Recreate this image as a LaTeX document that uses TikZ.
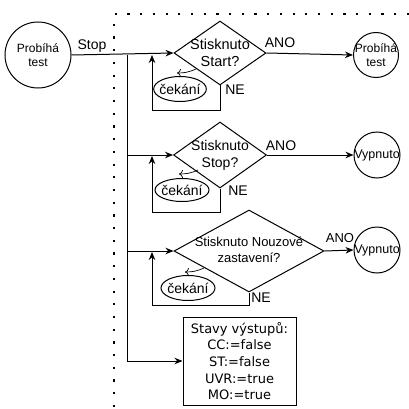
\documentclass[tikz,border=0pt]{standalone}
\usepackage{fontspec}
\setmainfont{Liberation Sans}
\newfontfamily\boxfont{DejaVu Sans}
\usetikzlibrary{shapes.geometric,arrows.meta}
\tikzset{
  arr/.style={draw, line width=1pt, -{Stealth[length=8pt,width=6.5pt]}},
  dia/.style={diamond, draw, line width=1pt, inner sep=0pt},
  dtext/.style={align=center, font=\fontsize{14.5}{17}\selectfont, inner sep=0pt},
  circ/.style={circle, draw, line width=1pt, align=center, inner sep=-4pt, font=\fontsize{12}{13.5}\selectfont},
  wait/.style={ellipse, draw, line width=1pt, inner sep=-2pt, font=\fontsize{14}{16}\selectfont},
  lab/.style={font=\fontsize{14}{16}\selectfont, inner sep=0pt},
  loopmark/.style={draw, line width=0.7pt, -{To[length=4pt,width=8pt]}},
  dots/.style={draw, line width=2.2pt, dash pattern=on 2.2pt off 10.5pt}
}
\begin{document}
\begin{tikzpicture}[x=1pt,y=-1pt]
\useasboundingbox (0,0) rectangle (409,409);
% dotted frame
\draw[dots] (409,14) -- (114,14) -- (114,409);

% start state
\node[circ, minimum size=66pt] (p0) at (38,55) {Probíhá\\test};

% diamonds
\node[dia, minimum width=92pt, minimum height=64pt] (d1) at (220,53) {};
\node[dtext] (t1) at (d1.center) {Stisknuto\\Start?};
\node[dia, minimum width=93pt, minimum height=66pt] (d2) at (220,155) {};
\node[dtext, font=\fontsize{14}{17}\selectfont] (t2) at (d2.center) {Stisknuto\\Stop?};
\node[dia, minimum width=150pt, minimum height=82pt] (d3) at (249,251) {};
\node[dtext, font=\fontsize{13}{16}\selectfont] (t3) at ([yshift=1pt]d3.center) {Stisknuto Nouzové\\zastavení?};

% targets
\node[circ, minimum size=45pt] (c1) at (376,55) {Probíhá\\test};
\node[circ, minimum size=46pt, font=\fontsize{12.5}{14}\selectfont] (c2) at (377,155) {Vypnuto};
\node[circ, minimum size=46pt, font=\fontsize{12.5}{14}\selectfont] (c3) at (377,250) {Vypnuto};

% output box
\node[draw, line width=1pt, minimum width=113pt, minimum height=88pt, align=center, inner sep=0pt,
      font=\boxfont\fontsize{13}{16.7}\selectfont] (box) at (239.5,361)
  {Stavy výstupů:\\CC:=false\\ST:=false\\UVR:=true\\MO:=true};

% waiting ellipses
\node[wait, minimum width=49pt, minimum height=25pt] (w1) at (180,89) {čekání};
\node[wait, minimum width=54pt, minimum height=23pt] (w2) at (182,190) {čekání};
\node[wait, minimum width=54pt, minimum height=25pt] (w3) at (188,288) {čekání};
\draw[loopmark] ([xshift=16pt,yshift=7pt]w1.north) to[bend left=12] ([xshift=-3pt,yshift=3pt]w1.north);
\draw[loopmark] ([xshift=16pt,yshift=8pt]w2.north) to[bend left=12] ([xshift=-3pt,yshift=4pt]w2.north);
\draw[loopmark] ([xshift=16pt,yshift=7pt]w3.north) to[bend left=12] ([xshift=-3pt,yshift=3pt]w3.north);

% main connectors
\coordinate (j) at (127,55);
\draw[arr] (p0.east) -- (d1.west);
\node[lab] (stop) at (92,46) {Stop};
\draw[arr] (j) |- (d2.west);
\draw[arr] (j) |- (d3.west);
\draw[arr] (j) |- (box.west);

% loops back
\coordinate (l1) at (152,55);
\coordinate (l2) at (152,156);
\coordinate (l3) at (152,252);
\draw[arr] (d1.south) -- (d1.south |- 0,111) -| (l1);
\draw[arr] (d2.south) -- (d2.south |- 0,212) -| (l2);
\draw[arr] (d3.south) -- (d3.south |- 0,305) -| (l3);

% yes branches
\draw[arr] (d1.east) -- (c1.west);
\draw[arr] (d2.east) -- (c2.west);
\draw[arr] (d3.east) -- (c3.west);

% labels
\node[lab] (a1) at (280,43) {ANO};
\node[lab] (a2) at (281,146) {ANO};
\node[lab, font=\fontsize{13}{15}\selectfont] (a3) at (340,238) {ANO};
\node[lab] (n1) at (235,90) {NE};
\node[lab] (n2) at (238,191) {NE};
\node[lab] (n3) at (261,298) {NE};
\end{tikzpicture}
\end{document}
